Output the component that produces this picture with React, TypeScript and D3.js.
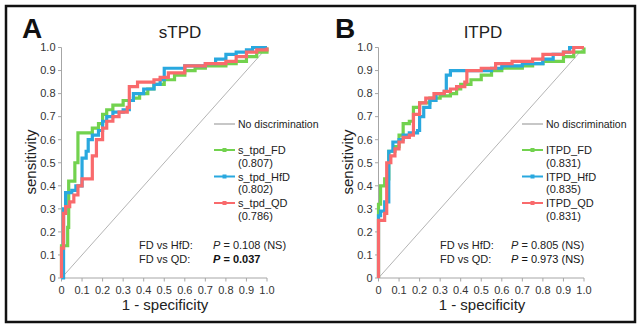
import React from "react"
import * as d3 from "d3"

type Pt = [number, number]

const xTicks = [0, 0.1, 0.2, 0.3, 0.4, 0.5, 0.6, 0.7, 0.8, 0.9, 1.0]
const yTicks = [0, 0.1, 0.2, 0.3, 0.4, 0.5, 0.6, 0.7, 0.8, 0.9, 1.0]

// ROC operating points (1 - specificity, sensitivity)
const sFD: Pt[] = [
  [0, 0], [0, 0.14], [0.03, 0.22], [0.035, 0.42], [0.065, 0.5], [0.08, 0.63],
  [0.15, 0.65], [0.18, 0.67], [0.2, 0.71], [0.22, 0.73], [0.25, 0.75], [0.3, 0.77],
  [0.35, 0.78], [0.38, 0.8], [0.42, 0.82], [0.45, 0.84], [0.5, 0.86], [0.55, 0.88],
  [0.6, 0.9], [0.65, 0.91], [0.7, 0.92], [0.8, 0.93], [0.85, 0.94], [0.9, 0.96],
  [0.95, 0.98], [1.0, 1.0],
]
const sHfD: Pt[] = [
  [0, 0], [0.01, 0.12], [0.01, 0.3], [0.02, 0.37], [0.05, 0.38], [0.07, 0.4],
  [0.1, 0.43], [0.1, 0.52], [0.12, 0.55], [0.13, 0.6], [0.15, 0.62], [0.18, 0.64],
  [0.2, 0.68], [0.22, 0.7], [0.25, 0.72], [0.3, 0.73], [0.33, 0.77], [0.35, 0.8],
  [0.4, 0.82], [0.45, 0.84], [0.48, 0.86], [0.5, 0.91], [0.6, 0.92], [0.7, 0.93],
  [0.75, 0.95], [0.8, 0.97], [0.85, 0.98], [0.9, 0.99], [0.93, 1.0], [1.0, 1.0],
]
const sQD: Pt[] = [
  [0, 0], [0, 0.13], [0.01, 0.28], [0.02, 0.31], [0.04, 0.33], [0.06, 0.36],
  [0.08, 0.4], [0.1, 0.43], [0.15, 0.53], [0.17, 0.6], [0.2, 0.65], [0.22, 0.68],
  [0.25, 0.7], [0.28, 0.72], [0.32, 0.74], [0.33, 0.83], [0.37, 0.85], [0.45, 0.86],
  [0.48, 0.87], [0.52, 0.89], [0.6, 0.92], [0.7, 0.93], [0.8, 0.94], [0.85, 0.96],
  [0.9, 0.98], [0.95, 0.99], [1.0, 1.0],
]

const lFD: Pt[] = [
  [0, 0], [0, 0.32], [0.01, 0.4], [0.03, 0.43], [0.05, 0.55], [0.08, 0.57],
  [0.1, 0.62], [0.12, 0.67], [0.15, 0.68], [0.17, 0.74], [0.2, 0.76], [0.25, 0.78],
  [0.3, 0.79], [0.35, 0.8], [0.38, 0.82], [0.4, 0.84], [0.45, 0.86], [0.5, 0.88],
  [0.55, 0.9], [0.6, 0.91], [0.7, 0.92], [0.75, 0.93], [0.8, 0.94], [0.9, 0.96],
  [0.95, 0.98], [1.0, 1.0],
]
const lHfD: Pt[] = [
  [0, 0], [0, 0.27], [0.01, 0.29], [0.03, 0.33], [0.05, 0.45], [0.05, 0.55],
  [0.07, 0.59], [0.1, 0.6], [0.12, 0.62], [0.15, 0.63], [0.19, 0.64], [0.2, 0.7],
  [0.22, 0.74], [0.25, 0.77], [0.28, 0.8], [0.32, 0.81], [0.33, 0.88], [0.35, 0.9],
  [0.5, 0.9], [0.55, 0.91], [0.6, 0.92], [0.7, 0.93], [0.8, 0.95], [0.85, 0.97],
  [0.9, 0.98], [0.93, 1.0], [1.0, 1.0],
]
const lQD: Pt[] = [
  [0, 0], [0, 0.25], [0.03, 0.28], [0.04, 0.5], [0.06, 0.53], [0.08, 0.56],
  [0.1, 0.59], [0.12, 0.61], [0.15, 0.62], [0.17, 0.71], [0.2, 0.76], [0.23, 0.78],
  [0.27, 0.8], [0.32, 0.81], [0.35, 0.82], [0.38, 0.83], [0.42, 0.85], [0.43, 0.9],
  [0.5, 0.91], [0.57, 0.93], [0.65, 0.94], [0.75, 0.95], [0.8, 0.97], [0.9, 0.98],
  [0.95, 1.0], [1.0, 1.0],
]

const COLORS = ["#72d24e", "#29a8df", "#f96a6c"]

interface PanelProps {
  letter: string
  title: string
  ox: number
  letterX: number
  titleX: number
  legX: number
  cmpX: number
  pX: number
  series: Pt[][]
  names: string[]
  aucs: string[]
  pHfD: string
  pQD: string
  qdBold: boolean
}

const FONT = "'Liberation Sans', Arial, sans-serif"

function Panel(props: PanelProps) {
  const { letter, title, ox, letterX, titleX, legX, cmpX, pX, series, names, aucs, pHfD, pQD, qdBold } = props
  const x = d3.scaleLinear().domain([0, 1]).range([ox + 61.5, ox + 267])
  const y = d3.scaleLinear().domain([0, 1]).range([278, 47.5])
  const line = d3.line<Pt>().x((d) => x(d[0])).y((d) => y(d[1])).curve(d3.curveStepAfter)
  const legY = [150, 176.5, 203]
  return (
    <g fontFamily={FONT}>
      <text x={letterX} y={38} fontSize={28} fontWeight="bold" fill="#111">{letter}</text>
      <text x={titleX} y={38} fontSize={17} textAnchor="middle" fill="#222">{title}</text>

      {/* axes */}
      <line x1={x(0)} x2={x(0)} y1={y(0)} y2={y(1)} stroke="#a6a6a6" strokeWidth={1} />
      <line x1={x(0)} x2={x(1)} y1={y(0)} y2={y(0)} stroke="#a6a6a6" strokeWidth={1} />
      {yTicks.map((t) => (
        <g key={"y" + t}>
          <line x1={x(0) - 3.5} x2={x(0)} y1={y(t)} y2={y(t)} stroke="#a6a6a6" />
          <text x={x(0) - 6} y={y(t) + 3.8} fontSize={11} textAnchor="end" fill="#333">
            {t === 0 ? "0" : t.toFixed(1)}
          </text>
        </g>
      ))}
      {xTicks.map((t) => (
        <g key={"x" + t}>
          <line x1={x(t)} x2={x(t)} y1={y(0)} y2={y(0) + 3.5} stroke="#a6a6a6" />
          <text x={x(t)} y={y(0) + 16} fontSize={11} textAnchor="middle" fill="#333">
            {t === 0 ? "0" : t.toFixed(1)}
          </text>
        </g>
      ))}
      <text x={ox + 165} y={310} fontSize={15} textAnchor="middle" fill="#222">1 - specificity</text>
      <text transform={`translate(${ox + 36},${162}) rotate(-90)`} fontSize={15} textAnchor="middle" fill="#222">
        sensitivity
      </text>

      {/* reference diagonal */}
      <line x1={x(0)} y1={y(0)} x2={x(1)} y2={y(1)} stroke="#b4b4b4" strokeWidth={1} />

      {series.map((s, i) => (
        <path key={i} d={line(s) ?? ""} fill="none" stroke={COLORS[i]} strokeWidth={3.2} strokeLinejoin="miter" />
      ))}

      {/* legend */}
      <line x1={legX} x2={legX + 21} y1={124} y2={124} stroke="#b4b4b4" strokeWidth={1.5} />
      <text x={legX + 24} y={128} fontSize={10.5} fill="#222">No discrimination</text>
      {names.map((n, i) => (
        <g key={n}>
          <line x1={legX} x2={legX + 21} y1={legY[i]} y2={legY[i]} stroke={COLORS[i]} strokeWidth={2} />
          <rect x={legX + 8.5} y={legY[i] - 2} width={4} height={4} fill={COLORS[i]} />
          <text x={legX + 24} y={legY[i] + 4} fontSize={11} fill="#222">{n}</text>
          <text x={legX + 24} y={legY[i] + 16.5} fontSize={11} fill="#222">({aucs[i]})</text>
        </g>
      ))}

      {/* comparisons */}
      <text x={cmpX} y={249} fontSize={11} fill="#222">FD vs HfD:</text>
      <text x={cmpX} y={263} fontSize={11} fill="#222">FD vs QD:</text>
      <text x={pX} y={249} fontSize={11} fill="#222">
        <tspan fontStyle="italic">P</tspan> = {pHfD}
      </text>
      <text x={pX} y={263} fontSize={11} fill="#111" fontWeight={qdBold ? "bold" : "normal"}>
        <tspan fontStyle="italic">P</tspan> = {pQD}
      </text>
    </g>
  )
}

export default function App() {
  return (
    <div style={{ position: "fixed", left: 0, top: 0 }}>
      <svg width={638} height={326} style={{ display: "block", background: "#fff" }}>
        <rect x={6} y={6} width={629} height={316} fill="#fff" stroke="#111" strokeWidth={2.5} />
        <Panel
          letter="A" title="sTPD" ox={0} letterX={22} titleX={180} legX={214} cmpX={139} pX={213}
          series={[sFD, sHfD, sQD]}
          names={["s_tpd_FD", "s_tpd_HfD", "s_tpd_QD"]}
          aucs={["0.807", "0.802", "0.786"]}
          pHfD="0.108 (NS)" pQD="0.037" qdBold={true}
        />
        <Panel
          letter="B" title="ITPD" ox={317} letterX={335} titleX={483} legX={522} cmpX={440} pX={511}
          series={[lFD, lHfD, lQD]}
          names={["ITPD_FD", "ITPD_HfD", "ITPD_QD"]}
          aucs={["0.831", "0.835", "0.831"]}
          pHfD="0.805 (NS)" pQD="0.973 (NS)" qdBold={false}
        />
      </svg>
    </div>
  )
}
